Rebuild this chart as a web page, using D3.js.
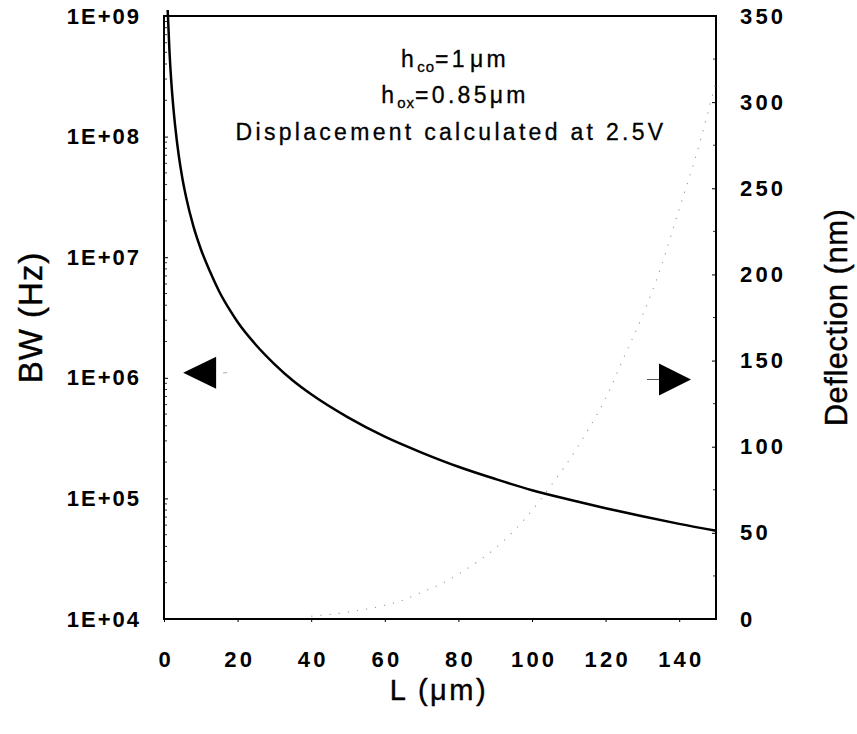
<!DOCTYPE html>
<html>
<head>
<meta charset="utf-8">
<script src="https://cdn.jsdelivr.net/npm/d3@7"></script>
<style>
body { margin: 0; background: #fff; }
svg text { font-family: "Liberation Sans", Arial, sans-serif; fill: #000; }
.tick text { font-size: 22px; font-weight: bold; letter-spacing: 3.2px; }
.yleft .tick text { letter-spacing: 2px; }
.axis path { display: none; }
.axis line { stroke: #000; stroke-width: 1; }
.title { stroke: #000; stroke-width: 0.4px; }
.note { font-size: 23px; letter-spacing: 3.3px; stroke: #000; stroke-width: 0.3px; }
</style>
</head>
<body>
<svg id="chart" width="857" height="734"></svg>
<script>
// BW (Hz) vs cantilever length L (um)
var bwL = [1, 1.5, 2, 2.5, 3, 4, 5, 6, 8, 10, 12.5, 15, 18, 20, 25, 30, 35, 40, 50, 60, 70, 80, 90, 100, 110, 120, 130, 140, 150];
var bwVal = [1.12e9, 5.0e8, 2.8e8, 1.8e8, 1.25e8, 7.0e7, 4.5e7, 3.15e7, 1.8e7, 1.17e7, 7.6e6, 5.2e6, 3.6e6, 2.9e6, 1.87e6, 1.3e6, 9.5e5, 7.3e5, 4.7e5, 3.25e5, 2.4e5, 1.83e5, 1.45e5, 1.17e5, 9.8e4, 8.3e4, 7.1e4, 6.15e4, 5.4e4];
// Deflection (nm) at 2.5V
var defL = [40, 50, 60, 65, 70, 75, 80, 85, 90, 95, 100, 105, 110, 115, 120, 125, 130, 135, 140, 145, 150];
var defVal = [1.6, 4, 8, 11, 15.5, 20, 26, 33, 41, 51, 63, 77, 92, 109, 128, 152, 176, 204, 238, 272, 312];

var xTicks = [0, 20, 40, 60, 80, 100, 120, 140];
var bwTicks = [1e4, 1e5, 1e6, 1e7, 1e8, 1e9];
var defTicks = [0, 50, 100, 150, 200, 250, 300, 350];
var defMinor = [25, 75, 125, 175, 225, 275, 325];

const svg = d3.select("#chart"),
	margin = {top: 16, right: 141, bottom: 115, left: 164},
	width = 857 - margin.left - margin.right,
	height = 734 - margin.top - margin.bottom;

const x = d3.scaleLinear().domain([0, 150]).range([margin.left, margin.left + width]),
	yL = d3.scaleLog().domain([1e4, 1e9]).range([margin.top + height, margin.top]),
	yR = d3.scaleLinear().domain([0, 350]).range([margin.top + height, margin.top]);

const bottom = margin.top + height, right = margin.left + width;

// log minor ticks inside the left axis
var minor = [];
bwTicks.slice(0, -1).forEach(d => { for (var k = 2; k < 10; k++) minor.push(d * k); });
svg.append("g").selectAll("line").data(minor).enter().append("line")
	.attr("x1", margin.left).attr("x2", margin.left + 3)
	.attr("y1", d => yL(d)).attr("y2", d => yL(d))
	.attr("stroke", "#000").attr("stroke-width", 0.8);

svg.append("g").attr("class", "axis yleft")
	.attr("transform", `translate(${margin.left},0)`)
	.call(d3.axisLeft(yL).tickValues(bwTicks).tickSize(-4).tickPadding(23)
		.tickFormat(d => "1E+0" + Math.round(Math.log10(d))));

svg.append("g").attr("class", "axis xaxis")
	.attr("transform", `translate(0,${bottom})`)
	.call(d3.axisBottom(x).tickValues(xTicks).tickSize(3).tickPadding(29));
// x labels: compensate the trailing letter spacing
svg.selectAll(".xaxis .tick text").attr("dx", 1.6);

svg.append("g").attr("class", "axis")
	.attr("transform", `translate(${right},0)`)
	.call(d3.axisRight(yR).tickValues(defTicks).tickSize(-4).tickPadding(24));

svg.append("g").selectAll("line").data(defMinor).enter().append("line")
	.attr("x1", right).attr("x2", right - 3)
	.attr("y1", d => yR(d)).attr("y2", d => yR(d))
	.attr("stroke", "#000").attr("stroke-width", 0.8);

// frame
svg.append("rect")
	.attr("x", margin.left).attr("y", margin.top)
	.attr("width", width).attr("height", height)
	.attr("fill", "none").attr("stroke", "#000").attr("stroke-width", 2);

// deflection: faint dotted curve
svg.append("path")
	.datum(defL.map((d, i) => [d, defVal[i]]))
	.attr("fill", "none")
	.attr("stroke", "#9a9a9a")
	.attr("stroke-width", 1.1)
	.attr("stroke-dasharray", "1.2 8")
	.attr("d", d3.line().x(d => x(d[0])).y(d => yR(d[1])).curve(d3.curveMonotoneX));

// BW curve
svg.append("path")
	.datum(bwL.map((d, i) => [d, bwVal[i]]))
	.attr("fill", "none")
	.attr("stroke", "#000")
	.attr("stroke-width", 2.5)
	.attr("d", d3.line().x(d => x(d[0])).y(d => yL(d[1])).curve(d3.curveMonotoneX));

// arrows showing which axis each curve uses
var lx = x(5.2), ly = yL(1.1e6);
svg.append("path")
	.attr("d", `M${lx},${ly} L${lx + 33},${ly - 16} L${lx + 33},${ly + 16} Z`)
	.attr("fill", "#000");
svg.append("line").attr("x1", lx + 40).attr("x2", lx + 44).attr("y1", ly).attr("y2", ly)
	.attr("stroke", "#aaa").attr("stroke-width", 1);

var rx = x(143.2), ry = yR(139);
svg.append("path")
	.attr("d", `M${rx},${ry} L${rx - 32},${ry - 16} L${rx - 32},${ry + 16} Z`)
	.attr("fill", "#000");
svg.append("line").attr("x1", rx - 44).attr("x2", rx - 32).attr("y1", ry).attr("y2", ry)
	.attr("stroke", "#555").attr("stroke-width", 1);

// axis titles
svg.append("text").attr("class", "title")
	.attr("x", (margin.left + right) / 2 - 1).attr("y", 700)
	.attr("text-anchor", "middle")
	.style("font-size", "29px").style("letter-spacing", "2.5px")
	.text("L (μm)");

svg.append("text").attr("class", "title")
	.attr("transform", `translate(42,${(margin.top + bottom) / 2}) rotate(-90)`)
	.attr("text-anchor", "middle")
	.style("font-size", "33px").style("letter-spacing", "1px")
	.text("BW (Hz)");

svg.append("text").attr("class", "title")
	.attr("transform", `translate(847,${(margin.top + bottom) / 2}) rotate(-90)`)
	.attr("text-anchor", "middle")
	.style("font-size", "31px").style("letter-spacing", "0.5px")
	.text("Deflection (nm)");

// annotation
var note = svg.append("text").attr("class", "note").attr("text-anchor", "middle");
var t1 = note.append("tspan").attr("x", 455).attr("y", 67);
t1.append("tspan").text("h");
t1.append("tspan").attr("dy", 5).attr("font-size", "15px").attr("letter-spacing", "1px").text("co");
t1.append("tspan").attr("dy", -5).text("=1");
t1.append("tspan").attr("dx", 2).text("μm");
var t2 = note.append("tspan").attr("x", 455).attr("y", 103);
t2.append("tspan").text("h");
t2.append("tspan").attr("dy", 5).attr("font-size", "15px").attr("letter-spacing", "1px").text("ox");
t2.append("tspan").attr("dy", -5).text("=0.85μm");
note.append("tspan").attr("x", 451).attr("y", 140).text("Displacement calculated at 2.5V");
</script>
</body>
</html>
